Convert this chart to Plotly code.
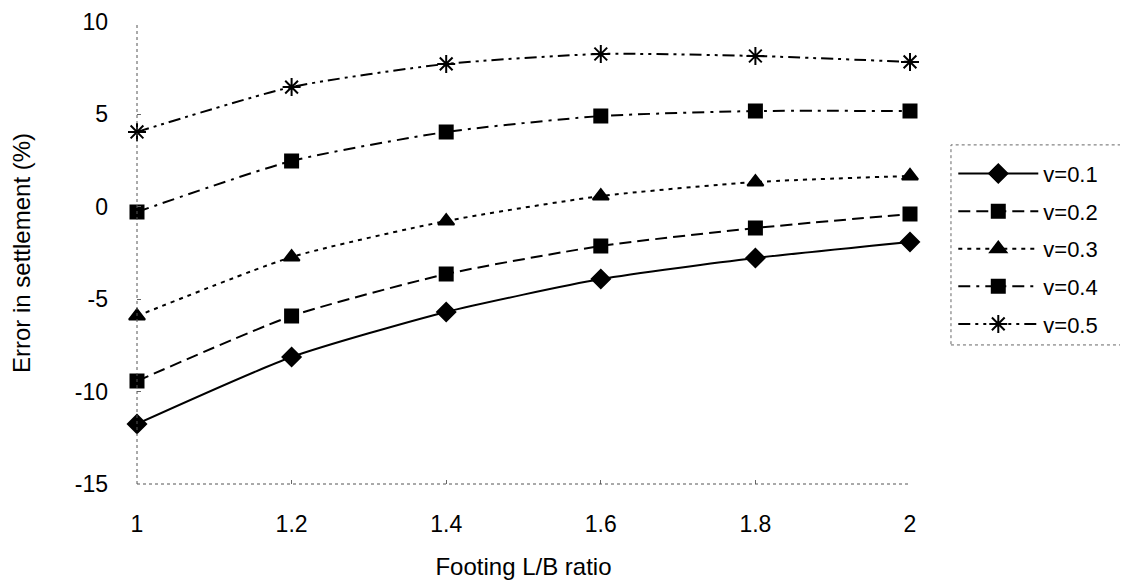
import plotly.graph_objects as go

ratios = [1.0, 1.2, 1.4, 1.6, 1.8, 2.0]
v01 = [-11.75, -8.13, -5.69, -3.91, -2.77, -1.90]
v02 = [-9.43, -5.91, -3.64, -2.12, -1.15, -0.39]
v03 = [-5.91, -2.72, -0.77, 0.58, 1.34, 1.67]
v04 = [-0.28, 2.48, 4.05, 4.91, 5.18, 5.18]
v05 = [4.05, 6.48, 7.73, 8.27, 8.16, 7.84]
names = ["v=0.1", "v=0.2", "v=0.3", "v=0.4", "v=0.5"]
x_ticks = [1, 1.2, 1.4, 1.6, 1.8, 2]
x_tick_text = ["1", "1.2", "1.4", "1.6", "1.8", "2"]
y_ticks = [-15, -10, -5, 0, 5, 10]
y_tick_text = ["-15", "-10", "-5", "0", "5", "10"]

series = [v01, v02, v03, v04, v05]
dashes = ["solid", "12px,6px", "4px,5px", "12px,6px,3px,6px", "12px,5px,3px,5px,3px,5px"]
symbols = ["diamond", "square", "triangle-up", "square", "asterisk-open"]
sizes = [14, 13, 14, 13, 15]

fig = go.Figure()
for i, (vals, name) in enumerate(zip(series, names)):
    fig.add_trace(go.Scatter(
        x=ratios, y=vals, name=name, mode="lines+markers",
        legendgroup=name,
        line=dict(color="black", width=2, dash=dashes[i], shape="spline", smoothing=0.6),
        marker=dict(symbol=symbols[i], size=sizes[i], color="black",
                    line=dict(color="black", width=2)),
        cliponaxis=False,
    ))

font = "Liberation Sans, Arial, sans-serif"
fig.update_layout(
    width=1120, height=579,
    margin=dict(l=129, r=218, t=14, b=103, autoexpand=False),
    paper_bgcolor="white", plot_bgcolor="white",
    font=dict(family=font, color="black", size=22),
    showlegend=True,
    legend=dict(
        x=1.056, y=0.717, xanchor="left", yanchor="top",
        font=dict(size=22, family=font),
        borderwidth=0, bgcolor="rgba(0,0,0,0)",
        tracegroupgap=6, itemwidth=80,
    ),
    xaxis=dict(
        range=[1, 2], tickvals=x_ticks, ticktext=x_tick_text,
        showgrid=False, zeroline=False, showline=False, automargin=False,
        ticks="inside", ticklen=4, tickcolor="#666",
        tickfont=dict(size=23), ticklabelstandoff=24,
        title=dict(text="Footing L/B ratio", font=dict(size=24), standoff=22),
    ),
    yaxis=dict(
        range=[-15, 10], tickvals=y_ticks, ticktext=y_tick_text,
        showgrid=False, zeroline=False, showline=False, automargin=False,
        ticks="inside", ticklen=4, tickcolor="#666",
        tickfont=dict(size=23), ticklabelstandoff=28,
        title=dict(text="Error in settlement (%)", font=dict(size=24), standoff=42),
    ),
    shapes=[
        dict(type="line", xref="x domain", yref="y domain", x0=0, x1=0, y0=0, y1=1,
             line=dict(color="#555", width=1, dash="dot")),
        dict(type="line", xref="x domain", yref="y domain", x0=0, x1=1, y0=0, y1=0,
             line=dict(color="#555", width=1, dash="dot")),
        dict(type="rect", xref="paper", yref="paper", x0=1.053, x1=1.274, y0=0.301, y1=0.734,
             line=dict(color="#666", width=1, dash="dot")),
    ],
)

fig.write_html("out.html")
